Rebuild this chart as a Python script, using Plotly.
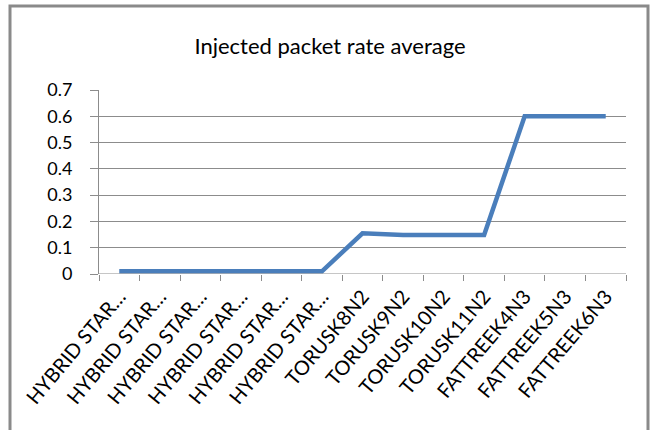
import plotly.graph_objects as go

# Network configurations along the horizontal axis
categories = [
    "HYBRID STAR…", "HYBRID STAR…", "HYBRID STAR…", "HYBRID STAR…",
    "HYBRID STAR…", "HYBRID STAR…",
    "TORUSK8N2", "TORUSK9N2", "TORUSK10N2", "TORUSK11N2",
    "FATTREEK4N3", "FATTREEK5N3", "FATTREEK6N3",
]
# Average injected packet rate per configuration
injected_rate = [0.01, 0.01, 0.01, 0.01, 0.01, 0.01,
                 0.155, 0.148, 0.148, 0.148,
                 0.6, 0.6, 0.6]
y_ticks = [0, 0.1, 0.2, 0.3, 0.4, 0.5, 0.6, 0.7]
y_ticktext = ["0", "0.1", "0.2", "0.3", "0.4", "0.5", "0.6", "0.7"]

positions = list(range(len(categories)))
FONT = "Lato, 'Open Sans', sans-serif"
GRID = "#8c8c8c"

fig = go.Figure(
    go.Scatter(
        x=positions,
        y=injected_rate,
        mode="lines",
        line=dict(color="#4a7ebb", width=4.5),
        hoverinfo="skip",
    )
)

# Chart-area frame
L, R, T, B = 99, 626, 90, 274
def px_x(px):
    return (px - L) / (R - L)
def px_y(py):
    return (B - py) / (B - T)

fig.add_shape(
    type="rect", xref="paper", yref="paper",
    x0=px_x(10), x1=px_x(648), y0=px_y(440), y1=px_y(6),
    line=dict(color="#8a8a8a", width=3), layer="below",
)

fig.update_layout(
    width=652, height=430,
    margin=dict(l=L, r=652 - R, t=T, b=430 - B),
    paper_bgcolor="white", plot_bgcolor="white",
    showlegend=False,
    title=dict(
        text="Injected packet rate average",
        font=dict(family=FONT, size=22, color="black"),
        x=330 / 652, xref="container", xanchor="center",
        y=1 - 46 / 430, yref="container", yanchor="middle",
    ),
    xaxis=dict(
        range=[-0.5, len(categories) - 0.5],
        tickmode="array", tickvals=positions, ticktext=categories,
        tickangle=-50, ticks="", showgrid=False, zeroline=False,
        showline=False,
        tickfont=dict(family=FONT, size=20, color="black"),
        ticklabelstandoff=6,
        minor=dict(
            tickmode="array",
            tickvals=[i - 0.5 for i in range(len(categories) + 1)],
            ticks="outside", ticklen=6, tickcolor=GRID, tickwidth=1,
            showgrid=False,
        ),
    ),
    yaxis=dict(
        range=[0, 0.7],
        tickmode="array", tickvals=y_ticks, ticktext=y_ticktext,
        showgrid=True, gridcolor=GRID, gridwidth=1,
        zeroline=False, showline=True, linecolor=GRID, linewidth=1,
        ticks="outside", ticklen=8, tickcolor=GRID,
        tickfont=dict(family=FONT, size=18, color="black"),
        ticklabelstandoff=14,
    ),
)

# baseline of the value axis
fig.add_shape(type="line", xref="paper", yref="y", x0=0, x1=1, y0=0, y1=0,
              line=dict(color=GRID, width=1))

fig.write_html("out.html")
